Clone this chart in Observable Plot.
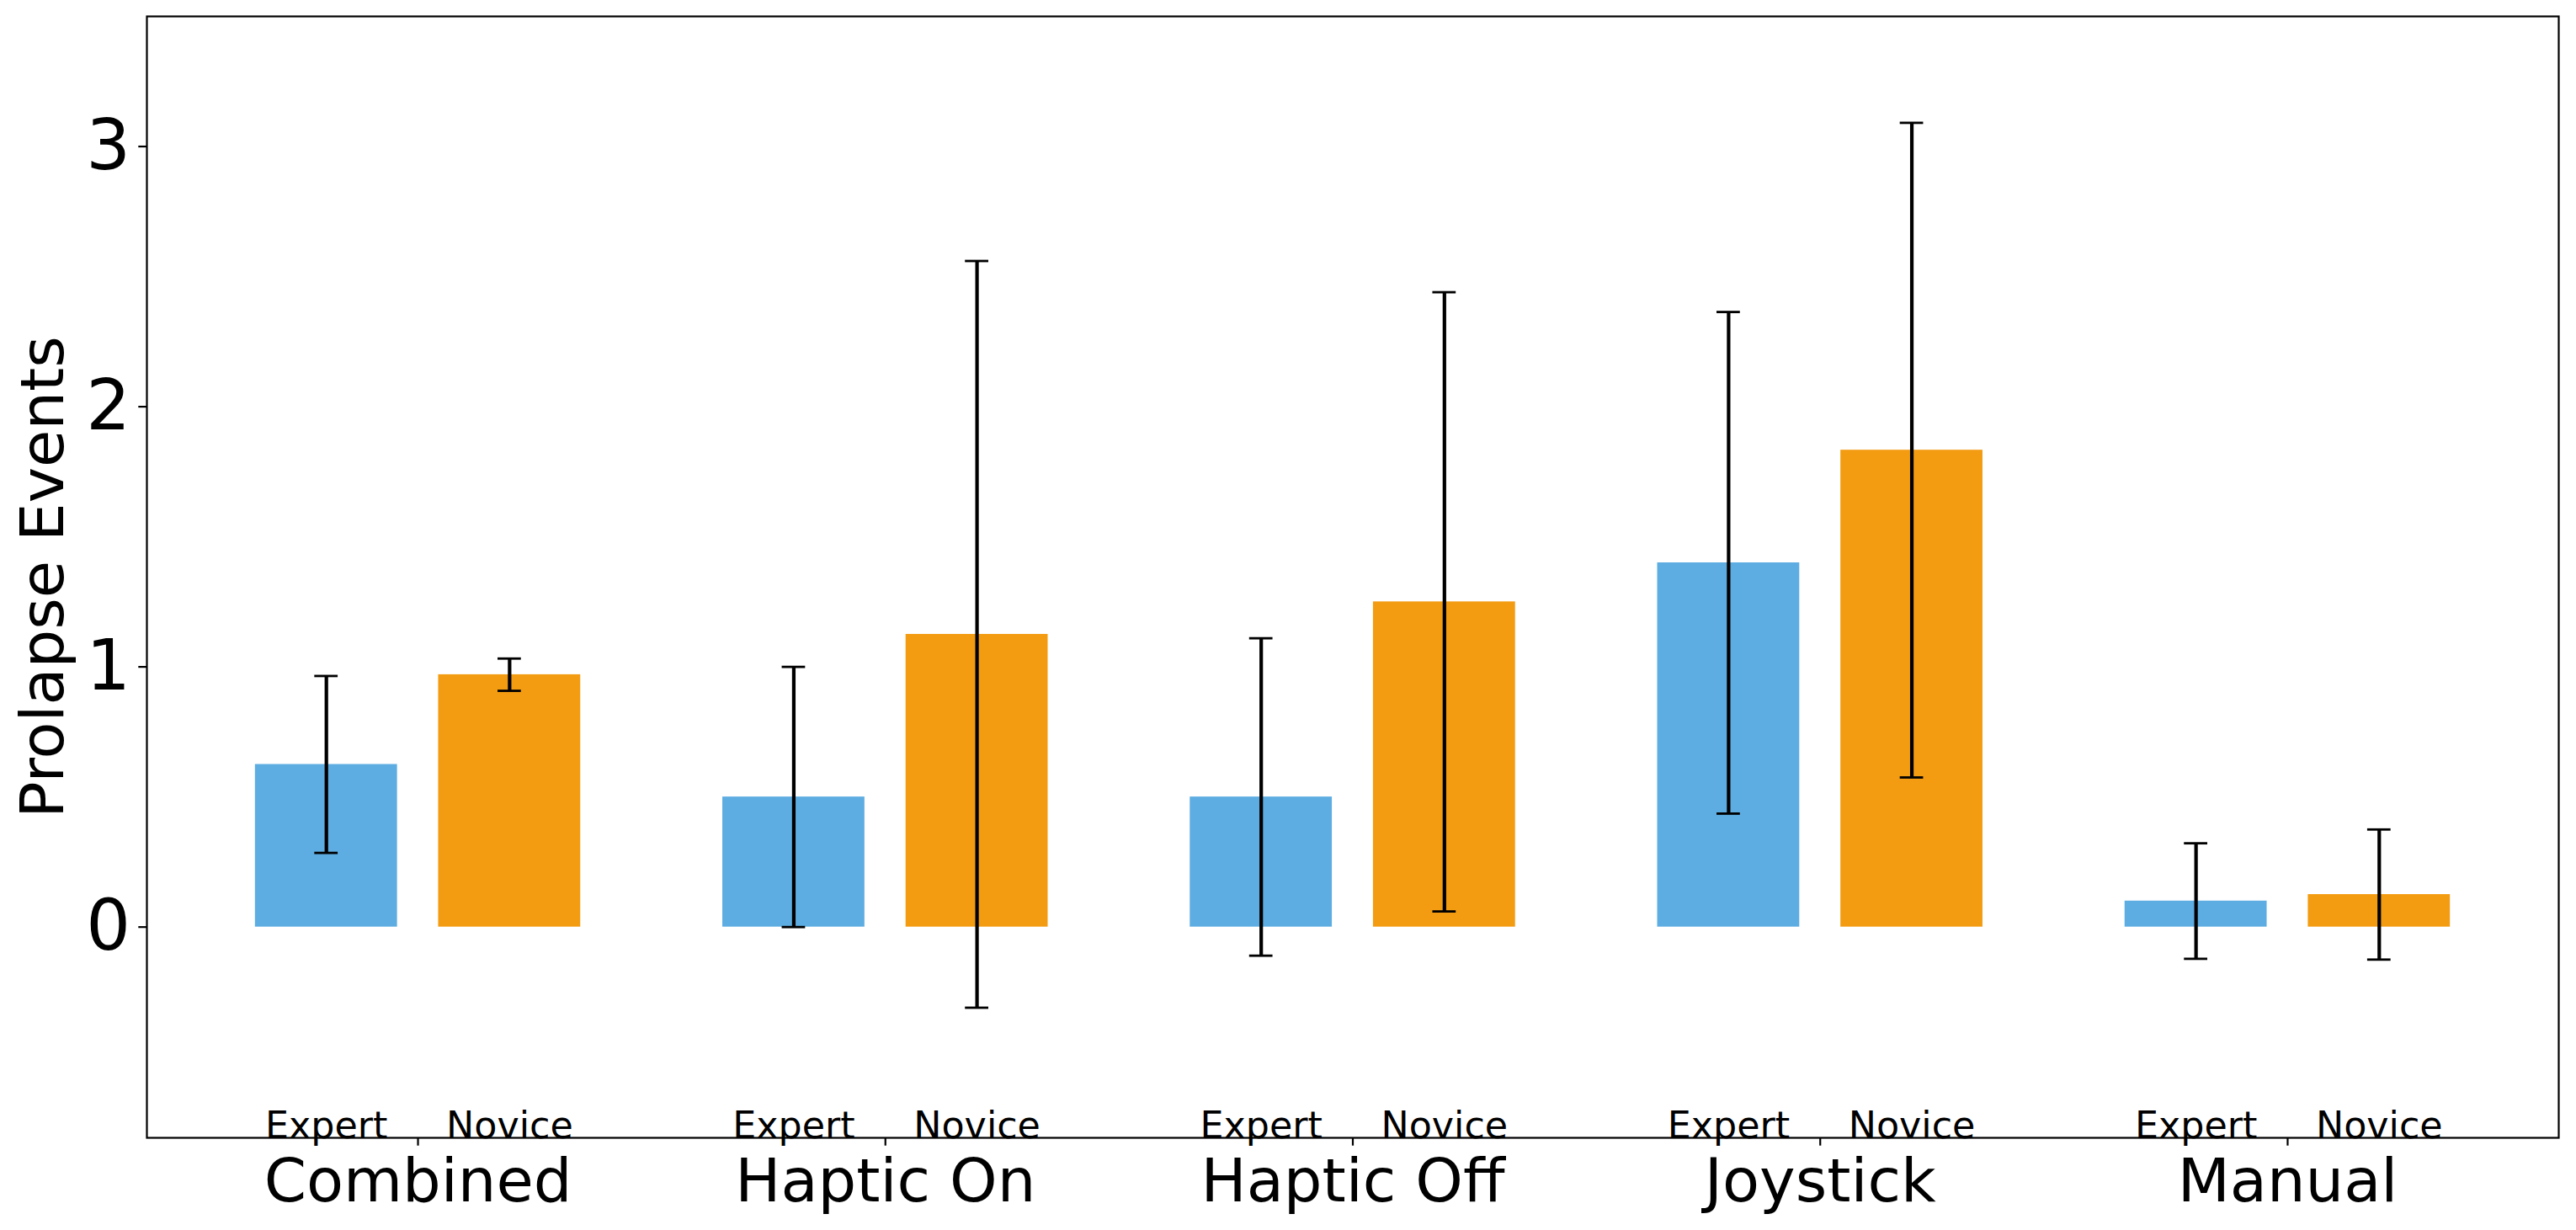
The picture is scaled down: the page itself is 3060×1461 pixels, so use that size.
<!DOCTYPE html>
<html>
<head>
<meta charset="utf-8">
<script src="https://cdn.jsdelivr.net/npm/d3@7"></script>
<script src="https://cdn.jsdelivr.net/npm/@observablehq/plot@0.6"></script>
<style>
  html, body { margin: 0; padding: 0; background: #fff; overflow: hidden; }
  #chart svg { display: block; }
</style>
</head>
<body>
<div id="chart"></div>
<script>
// ---- data ----
const categories = ["Combined", "Haptic On", "Haptic Off", "Joystick", "Manual"];
const groups = ["Expert", "Novice"];
const expertMean = [0.625, 0.5, 0.5, 1.4, 0.1];
const expertErr  = [0.34, 0.5, 0.61, 0.964, 0.222];
const noviceMean = [0.97, 1.125, 1.25, 1.833, 0.125];
const noviceErr  = [0.062, 1.435, 1.19, 1.258, 0.25];
const yTicks = [0, 1, 2, 3];
const yLabel = "Prolapse Events";

// ---- layout / style ----
const W = 3060, H = 1461;
const offset = 0.196, halfBar = 0.152, capHalf = 0.025;
const colors = {Expert: "#5DADE2", Novice: "#F39C12"};

const table = [];
categories.forEach((cat, i) => {
  groups.forEach(g => {
    const mean = g === "Expert" ? expertMean[i] : noviceMean[i];
    const err = g === "Expert" ? expertErr[i] : noviceErr[i];
    table.push({cat, group: g, x: i + (g === "Expert" ? -offset : offset), mean, lo: mean - err, hi: mean + err});
  });
});

const chart = Plot.plot({
  width: W,
  height: H,
  marginLeft: 174,
  marginRight: 21,
  marginTop: 19,
  marginBottom: 110,
  style: {fontFamily: "DejaVu Sans", background: "white", color: "black"},
  x: {domain: [-0.58, 4.58]},
  y: {domain: [-0.81, 3.5]},
  marks: [
    Plot.rect(table, {x1: d => d.x - halfBar, x2: d => d.x + halfBar, y1: 0, y2: "mean", fill: d => colors[d.group]}),
    Plot.ruleX(table, {x: "x", y1: "lo", y2: "hi", stroke: "black", strokeWidth: 4.2}),
    Plot.ruleY(table, {y: "hi", x1: d => d.x - capHalf, x2: d => d.x + capHalf, stroke: "black", strokeWidth: 2.8}),
    Plot.ruleY(table, {y: "lo", x1: d => d.x - capHalf, x2: d => d.x + capHalf, stroke: "black", strokeWidth: 2.8}),
    Plot.axisY({ticks: yTicks, tickSize: 9.7, tickPadding: 9.7, fontSize: 83, strokeWidth: 2.2, label: null, tickFormat: d => String(d)}),
    Plot.axisX({ticks: [0, 1, 2, 3, 4], tickFormat: i => categories[i], tickSize: 9.7, tickPadding: 15, fontSize: 72, strokeWidth: 2.2, label: null}),
    Plot.text(table, {x: "x", text: "group", frameAnchor: "bottom", textAnchor: "middle", lineAnchor: "middle", dy: -14.2, fontSize: 44.4, fill: "black"}),
    Plot.text([yLabel], {frameAnchor: "left", text: d => d, rotate: -90, dx: -123, textAnchor: "middle", lineAnchor: "middle", fontSize: 72, fill: "black"}),
    Plot.frame({stroke: "black", strokeWidth: 2.2})
  ]
});
document.getElementById("chart").appendChild(chart);
</script>
</body>
</html>
